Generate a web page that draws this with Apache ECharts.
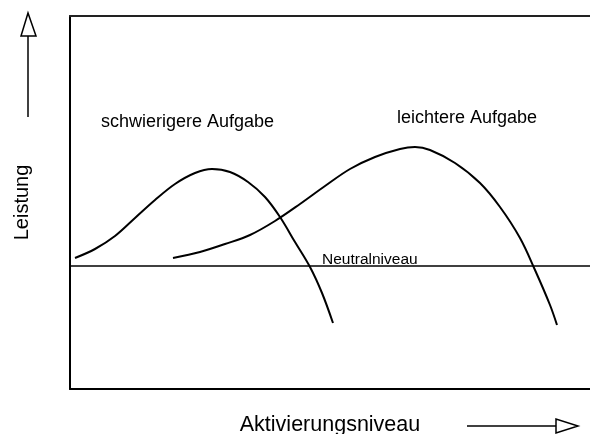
<!DOCTYPE html>
<html>
<head>
<meta charset="utf-8">
<style>
  html,body{margin:0;padding:0;background:#fff;}
  #chart{width:590px;height:434px;}
</style>
<script src="https://cdn.jsdelivr.net/npm/echarts@6/dist/echarts.min.js"></script>
</head>
<body>
<div id="chart"></div>
<script>
// Aktivierungsniveau (x) / Leistung (y), y = 0 is the Neutralniveau
var hardX = [5, 25, 45, 65, 85, 105, 125, 142, 160, 178, 195, 210, 225, 240, 252, 263];
var hardY = [8, 17, 30, 48, 66, 82, 93, 97, 94, 84, 69, 49, 24, -1, -27, -57];
var easyX = [103, 130, 155, 180, 205, 230, 255, 280, 305, 330, 345, 360, 385, 410, 430, 450, 465, 480, 487];
var easyY = [8, 14, 22, 31, 45, 62, 80, 97, 109, 117, 119, 116, 103, 83, 59, 28, -4, -39, -59];
var xRange = [0, 520];
var yRange = [-123, 250];

var font = '"Liberation Sans", Arial, sans-serif';

function pairs(xs, ys){
  var out = [];
  for (let i = 0; i < xs.length; i++) out.push([xs[i], ys[i]]);
  return out;
}

var myChart = echarts.init(document.getElementById('chart'));
var option = {
  backgroundColor: '#fff',
  animation: false,
  grid: {left: 70, right: 0, top: 16, bottom: 45, outerBoundsMode: 'none'},
  xAxis: [{
    type: 'value', min: xRange[0], max: xRange[1], position: 'bottom',
    name: 'Aktivierungsniveau', nameLocation: 'middle', nameGap: 25,
    nameTextStyle: {color: '#000', fontSize: 21.5, fontFamily: font},
    axisLine: {show: true, onZero: false, lineStyle: {color: '#000', width: 2}},
    axisTick: {show: false}, axisLabel: {show: false}, splitLine: {show: false}
  }, {
    type: 'value', min: xRange[0], max: xRange[1], position: 'top',
    axisLine: {show: true, onZero: false, lineStyle: {color: '#222', width: 2}},
    axisTick: {show: false}, axisLabel: {show: false}, splitLine: {show: false}
  }],
  yAxis: {
    type: 'value', min: yRange[0], max: yRange[1],
    name: 'Leistung', nameLocation: 'middle', nameGap: 38, nameRotate: 90,
    nameTextStyle: {color: '#000', fontSize: 20, fontFamily: font},
    axisLine: {show: true, onZero: false, lineStyle: {color: '#000', width: 2}},
    axisTick: {show: false}, axisLabel: {show: false}, splitLine: {show: false}
  },
  series: [{
    name: 'schwierigere Aufgabe', type: 'line', smooth: 0.35,
    showSymbol: false, data: pairs(hardX, hardY),
    lineStyle: {color: '#000', width: 2},
    markLine: {
      silent: true, symbol: 'none', label: {show: false},
      lineStyle: {color: '#000', width: 1.5, type: 'solid'},
      data: [{yAxis: 0}]
    }
  }, {
    name: 'leichtere Aufgabe', type: 'line', smooth: 0.35,
    showSymbol: false, data: pairs(easyX, easyY),
    lineStyle: {color: '#000', width: 2}
  }],
  graphic: [
    // curve labels
    {type: 'text', left: 101, top: 113, style: {text: 'schwierigere Aufgabe', fill: '#000', font: '18px ' + font}},
    {type: 'text', left: 397, top: 109, style: {text: 'leichtere Aufgabe', fill: '#000', font: '18px ' + font}},
    {type: 'text', left: 322, top: 252, style: {text: 'Neutralniveau', fill: '#000', font: '15.5px ' + font}},
    // up arrow next to Leistung
    {type: 'line', shape: {x1: 28, y1: 36, x2: 28, y2: 117}, style: {stroke: '#000', lineWidth: 1.5}},
    {type: 'polygon', shape: {points: [[28, 13], [21, 36], [36, 36]]}, style: {fill: '#fff', stroke: '#000', lineWidth: 1.5}},
    // right arrow next to Aktivierungsniveau
    {type: 'line', shape: {x1: 467, y1: 426, x2: 556, y2: 426}, style: {stroke: '#000', lineWidth: 1.5}},
    {type: 'polygon', shape: {points: [[556, 419], [556, 433], [578, 426]]}, style: {fill: '#fff', stroke: '#000', lineWidth: 1.5}}
  ]
};
myChart.setOption(option);
</script>
</body>
</html>
